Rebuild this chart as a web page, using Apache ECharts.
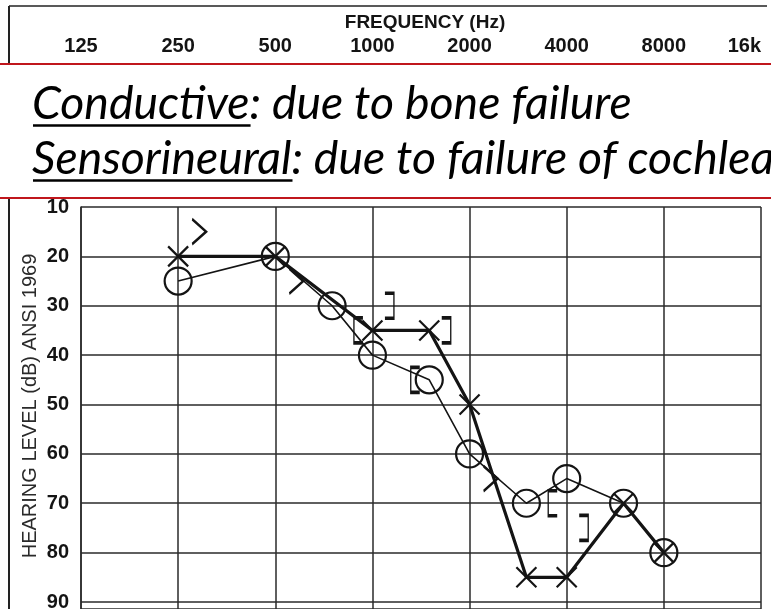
<!DOCTYPE html>
<html><head><meta charset="utf-8">
<script src="https://cdn.jsdelivr.net/npm/echarts@6/dist/echarts.min.js"></script>
<style>html,body{margin:0;padding:0;background:#fff}#c{width:771px;height:609px}</style>
</head><body><div id="c"></div>
<script>
// ---- data ----
const freqTicks = [125, 250, 500, 1000, 2000, 4000, 8000, 16000];
const freqTickLabels = ['125', '250', '500', '1000', '2000', '4000', '8000', '16k'];
const dbTicks = [10, 20, 30, 40, 50, 60, 70, 80, 90];

const rightAirFreq = [250, 500, 750, 1000, 1500, 2000, 3000, 4000, 6000, 8000];
const rightAirDb   = [25, 20, 30, 40, 45, 60, 70, 65, 70, 80];

const leftAirFreq = [250, 500, 1000, 1500, 2000, 3000, 4000, 6000, 8000];
const leftAirDb   = [20, 20, 35, 35, 50, 85, 85, 70, 80];

const rightBoneMaskedFreq = [1000, 1500, 4000];
const rightBoneMaskedDb   = [35, 45, 70];

const leftBoneMaskedFreq = [1000, 1500, 4000];
const leftBoneMaskedDb   = [30, 35, 75];

const leftBoneFreq = [250, 500, 2000];
const leftBoneDb   = [15, 25, 65];

const xTitle = 'FREQUENCY (Hz)';
const yTitle = 'HEARING LEVEL (dB) ANSI 1969';
const noteLines = [
  ['Conductive', ': due to bone failure'],
  ['Sensorineural', ': due to failure of cochlea']
];

// ---- helpers ----
const oct = f => Math.log2(f / freqTicks[0]);
const pts = (fs, ds) => fs.map((f, i) => [oct(f), ds[i]]);
const ink = '#141414';

// visible y range: 10 dB at the grid top, the chart continues past the page bottom
const gridTop = 207, pxPer10dB = 49.375, pageH = 609;
const yMaxVisible = dbTicks[0] + (pageH - gridTop) / pxPer10dB * 10;

const noteFamily = 'Lato';
const mctx = document.createElement('canvas').getContext('2d');
mctx.font = 'italic 40px ' + noteFamily;
const w1 = mctx.measureText(noteLines[0].join('')).width;
const noteSize = Math.round(40 * 600 / w1 * 10) / 10;
mctx.font = 'italic ' + noteSize + 'px ' + noteFamily;
const ul1 = mctx.measureText(noteLines[0][0]).width;
const ul2 = mctx.measureText(noteLines[1][0]).width;

const X_PATH = 'path://M0,0L20,20M20,0L0,20';
const LB_PATH = 'path://M8,0L0,0L0,24L8,24';
const RB_PATH = 'path://M0,0L8,0L8,24L0,24';
const GT_PATH = 'path://M0,0L12,12L0,24';
const markStyle = { color: 'rgba(0,0,0,0)', borderColor: ink, borderWidth: 2.2, opacity: 1 };

const chart = echarts.init(document.getElementById('c'), null, { renderer: 'canvas' });
chart.setOption({
  animation: false,
  backgroundColor: '#fff',
  grid: [
    { left: 81, right: 10, top: gridTop, bottom: 0, containLabel: false, outerBoundsMode: 'none' },
    { left: 81, right: 10, top: 62, height: 1, containLabel: false, outerBoundsMode: 'none' }
  ],
  xAxis: [
    {
      gridIndex: 0, type: 'value', min: 0, max: freqTicks.length - 1, interval: 1,
      axisLabel: { show: false }, axisTick: { show: false },
      axisLine: { show: false },
      splitLine: { show: true, lineStyle: { color: '#2a2a2a', width: 1.5 } }
    },
    {
      gridIndex: 1, type: 'value', position: 'top', min: 0, max: freqTicks.length - 1, interval: 1,
      axisTick: { show: false },
      axisLine: { show: true, lineStyle: { color: '#aaa', width: 1, type: 'dashed' } },
      splitLine: { show: false },
      axisLabel: {
        margin: 6, color: ink, fontSize: 20, fontWeight: 'bold', fontFamily: 'Liberation Sans',
        alignMaxLabel: 'right',
        formatter: v => freqTickLabels[Math.round(v)]
      },
      name: xTitle, nameLocation: 'middle', nameGap: 30,
      nameTextStyle: { color: ink, fontSize: 19, fontWeight: 'bold', fontFamily: 'Liberation Sans', padding: [0, 0, 0, 8] }
    }
  ],
  yAxis: [
    {
      gridIndex: 0, type: 'value', inverse: true, min: dbTicks[0], max: yMaxVisible, interval: 10,
      axisTick: { show: false },
      axisLine: { show: true, lineStyle: { color: '#2a2a2a', width: 1.5 } },
      splitLine: { show: true, lineStyle: { color: '#2a2a2a', width: 1.5 } },
      axisLabel: {
        margin: 12, color: ink, fontSize: 20, fontWeight: 'bold', fontFamily: 'Liberation Sans',
        showMaxLabel: false,
        formatter: v => (dbTicks.indexOf(v) >= 0 ? String(v) : '')
      }
    },
    { gridIndex: 1, type: 'value', show: false, min: 0, max: 1 }
  ],
  series: [
    {
      name: 'Right air', type: 'line', xAxisIndex: 0, yAxisIndex: 0, silent: true,
      data: pts(rightAirFreq, rightAirDb),
      symbol: 'circle', symbolSize: 27,
      itemStyle: markStyle,
      lineStyle: { color: ink, width: 1.6 }, z: 3
    },
    {
      name: 'Left air', type: 'line', xAxisIndex: 0, yAxisIndex: 0, silent: true,
      data: pts(leftAirFreq, leftAirDb),
      symbol: X_PATH, symbolSize: 20,
      itemStyle: markStyle,
      lineStyle: { color: ink, width: 3.2 }, z: 4
    },
    {
      name: 'Right bone masked', type: 'scatter', xAxisIndex: 0, yAxisIndex: 0, silent: true,
      data: pts(rightBoneMaskedFreq, rightBoneMaskedDb),
      symbol: LB_PATH, symbolSize: [9, 25], symbolOffset: [-14, 0],
      itemStyle: markStyle, z: 5
    },
    {
      name: 'Left bone masked', type: 'scatter', xAxisIndex: 0, yAxisIndex: 0, silent: true,
      data: pts(leftBoneMaskedFreq, leftBoneMaskedDb),
      symbol: RB_PATH, symbolSize: [9, 25], symbolOffset: [17, 0],
      itemStyle: markStyle, z: 5
    },
    {
      name: 'Left bone', type: 'scatter', xAxisIndex: 0, yAxisIndex: 0, silent: true,
      data: pts(leftBoneFreq, leftBoneDb),
      symbol: GT_PATH, symbolSize: [14, 25], symbolOffset: [21, 0],
      itemStyle: markStyle, z: 5
    }
  ],
  graphic: [
    { type: 'line', z: 50, shape: { x1: 9, y1: 6, x2: 767, y2: 6 }, style: { stroke: '#222', lineWidth: 1.6 } },
    { type: 'line', z: 50, shape: { x1: 9, y1: 6, x2: 9, y2: 609 }, style: { stroke: '#222', lineWidth: 2 } },
    {
      type: 'text', z: 50, x: 30, y: 406, rotation: Math.PI / 2,
      style: { text: yTitle, fill: '#2a2a2a', font: '20px "Liberation Sans"', align: 'center', verticalAlign: 'middle' }
    },
    { type: 'rect', z: 60, shape: { x: -5, y: 64, width: 790, height: 134 },
      style: { fill: '#fff', stroke: '#c0161c', lineWidth: 2 } },
    { type: 'text', z: 61, x: 32, y: 104.5,
      style: { text: noteLines[0].join(''), fill: '#000', font: 'italic ' + noteSize + 'px ' + noteFamily, verticalAlign: 'middle' } },
    { type: 'text', z: 61, x: 32, y: 159.5,
      style: { text: noteLines[1].join(''), fill: '#000', font: 'italic ' + noteSize + 'px ' + noteFamily, verticalAlign: 'middle' } },
    { type: 'line', z: 61, shape: { x1: 33, y1: 125.5, x2: 33 + ul1, y2: 125.5 }, style: { stroke: '#000', lineWidth: 2.5 } },
    { type: 'line', z: 61, shape: { x1: 33, y1: 180.5, x2: 33 + ul2, y2: 180.5 }, style: { stroke: '#000', lineWidth: 2.5 } }
  ]
});
</script>
</body></html>
